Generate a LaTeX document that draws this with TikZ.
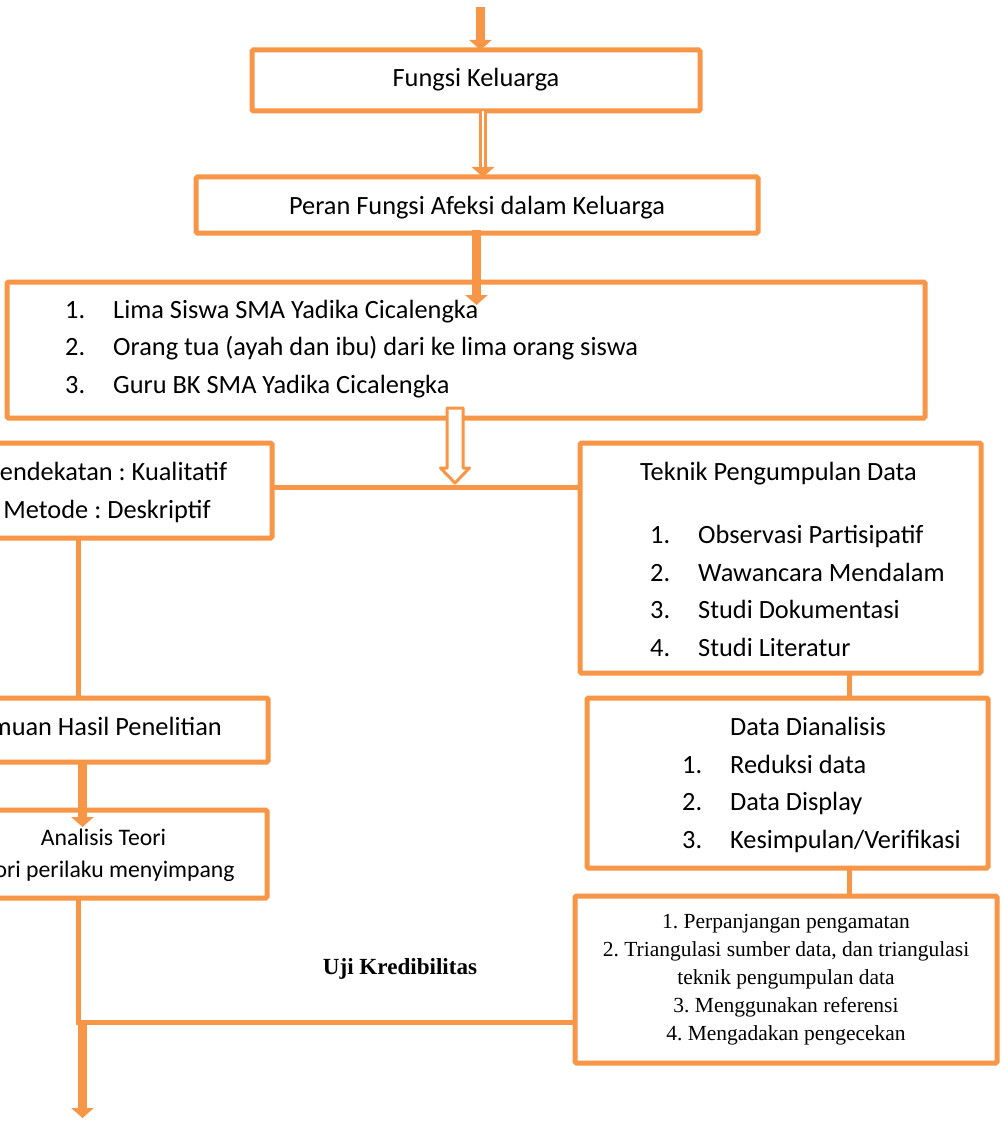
\documentclass[tikz,border=0pt]{standalone}
\usepackage{fontspec}
\setmainfont{Carlito}
\newfontfamily\tnr{Liberation Serif}
\usetikzlibrary{arrows.meta,calc}
\definecolor{og}{RGB}{247,150,70}
\frenchspacing
\tikzset{
 box/.style={draw=og, line width=5pt, rounded corners=1.5pt, fill=white, rectangle, inner sep=0pt, outer sep=0pt},
 conn/.style={draw=og, line width=5pt},
 bigarrow/.style={draw=og, line width=9pt, -{Triangle[width=22pt,length=10pt]}},
 txt/.style={inner sep=0pt, font=\frenchspacing\fontsize{26.35}{32}\selectfont},
 txts/.style={inner sep=0pt, font=\frenchspacing\fontsize{23.7}{28}\selectfont},
 tnrtxt/.style={inner sep=0pt, font=\frenchspacing\tnr\fontsize{21.5}{26}\selectfont},
 tnrbold/.style={inner sep=0pt, font=\frenchspacing\tnr\bfseries\fontsize{23.1}{28}\selectfont},
}
\begin{document}
\begin{tikzpicture}[x=1pt,y=-1pt]
\useasboundingbox (0,0) rectangle (1002,1126);
\clip (0,0) rectangle (1002,1126);
\fill[white] (0,0) rectangle (1002,1126);

% boxes
\node[box, minimum width=448pt, minimum height=61pt] (fk) at (476,80.5) {};
\node[box, minimum width=562pt, minimum height=56pt] (peran) at (477,205) {};
\node[box, minimum width=918pt, minimum height=136pt] (list) at (466,350) {};
\node[box, minimum width=324pt, minimum height=95pt] (pend) at (110,490.5) {};
\node[box, minimum width=401pt, minimum height=230pt] (teknik) at (780.5,558) {};
\node[box, minimum width=348pt, minimum height=64pt] (temuan) at (94,730) {};
\node[box, minimum width=327pt, minimum height=88pt] (analisis) at (103.5,854) {};
\node[box, minimum width=401pt, minimum height=170pt] (data) at (787.5,783) {};
\node[box, minimum width=422pt, minimum height=167pt] (uji) at (786,979.5) {};

% plain connectors
\coordinate (hl) at (455,487);
\coordinate (lx) at (78,0);
\coordinate (rx) at (849,0);
\coordinate (bl) at (78,1022);
\draw[conn] (hl -| pend.east) -- (hl -| teknik.west);
\draw[conn] (lx |- pend.south) -- (lx |- temuan.north);
\draw[conn] (lx |- analisis.south) -- (bl) -- (bl -| uji.west);
\draw[conn] (rx |- teknik.south) -- (rx |- data.north);
\draw[conn] (rx |- data.south) -- (rx |- uji.north);

% texts
\node[txt, anchor=base] (t1) at (476,87) {Fungsi Keluarga};
\node[txt, anchor=base] (t2) at (477,214) {Peran Fungsi Afeksi dalam Keluarga};

\node[txt, anchor=base west] (l1n) at (65,318) {1.};
\node[txt, anchor=base west] (l1) at (113,318) {Lima Siswa SMA Yadika Cicalengka};
\node[txt, anchor=base west] (l2n) at (65,355) {2.};
\node[txt, anchor=base west] (l2) at (113,355) {Orang tua (ayah dan ibu) dari ke lima orang siswa};
\node[txt, anchor=base west] (l3n) at (65,393) {3.};
\node[txt, anchor=base west] (l3) at (113,393) {Guru BK SMA Yadika Cicalengka};

\node[txt, anchor=base] (p1) at (107,480) {Pendekatan : Kualitatif};
\node[txt, anchor=base] (p2) at (107,518) {Metode : Deskriptif};

\node[txt, anchor=base west] (k0) at (640,480) {Teknik Pengumpulan Data};
\node[txt, anchor=base west] (k1n) at (650,543) {1.};
\node[txt, anchor=base west] (k1) at (698,543) {Observasi Partisipatif};
\node[txt, anchor=base west] (k2n) at (650,581) {2.};
\node[txt, anchor=base west] (k2) at (698,581) {Wawancara Mendalam};
\node[txt, anchor=base west] (k3n) at (650,618) {3.};
\node[txt, anchor=base west] (k3) at (698,618) {Studi Dokumentasi};
\node[txt, anchor=base west] (k4n) at (650,656) {4.};
\node[txt, anchor=base west] (k4) at (698,656) {Studi Literatur};

\node[txt, anchor=base east] (tm) at (222,735) {Temuan Hasil Penelitian};

\node[txts, anchor=base] (a1) at (103.5,845) {Analisis Teori};
\node[txts, anchor=base] (a2) at (104,877) {Teori perilaku menyimpang};

\node[txt, anchor=base west] (d0) at (730,735) {Data Dianalisis};
\node[txt, anchor=base west] (d1n) at (682,773) {1.};
\node[txt, anchor=base west] (d1) at (730,773) {Reduksi data};
\node[txt, anchor=base west] (d2n) at (682,810) {2.};
\node[txt, anchor=base west] (d2) at (730,810) {Data Display};
\node[txt, anchor=base west] (d3n) at (682,848) {3.};
\node[txt, anchor=base west] (d3) at (730,848) {Kesimpulan/Verifikasi};

\node[tnrtxt, anchor=base] (u1) at (786,928) {1. Perpanjangan pengamatan};
\node[tnrtxt, anchor=base] (u2) at (786,956) {2. Triangulasi sumber data, dan triangulasi};
\node[tnrtxt, anchor=base] (u3) at (786,984) {teknik pengumpulan data};
\node[tnrtxt, anchor=base] (u4) at (786,1012) {3. Menggunakan referensi};
\node[tnrtxt, anchor=base] (u5) at (786,1040) {4. Mengadakan pengecekan};

\node[tnrbold, anchor=base] (uk) at (400,974) {Uji Kredibilitas};

% arrows
\coordinate (top) at (480.5,7);
\draw[bigarrow] (top) -- (top |- fk.north);

\coordinate (da) at (483,0);
\draw[draw=og, line width=3pt, double=white, double distance=1.5pt] (da |- fk.south) -- ($(da |- peran.north)+(0,-10)$);
\fill[og] ($(da |- peran.north)+(-11.5,-10)$) -- ($(da |- peran.north)+(11.5,-10)$) -- (da |- peran.north) -- cycle;

\coordinate (pa) at (476.5,0);
\draw[bigarrow] ($(pa |- peran.south)+(0,-3)$) -- ($(pa |- list.north)+(0,23)$);

\coordinate (ha) at (455,483);
\draw[og, line width=3pt, fill=white, line join=round] ($(ha)+(-8,-75)$) -- ($(ha)+(-8,-15)$) -- ($(ha)+(-14.5,-15)$) -- (ha) -- ($(ha)+(14.5,-15)$) -- ($(ha)+(8,-15)$) -- ($(ha)+(8,-75)$) -- cycle;

\coordinate (ta) at (82.5,0);
\draw[bigarrow] (ta |- temuan.south) -- ($(ta |- analisis.north)+(0,17)$);

\coordinate (ba) at (82.5,1022);
\coordinate (bend) at (82.5,1118);
\draw[bigarrow] (ba) -- (bend);
\end{tikzpicture}
\end{document}
